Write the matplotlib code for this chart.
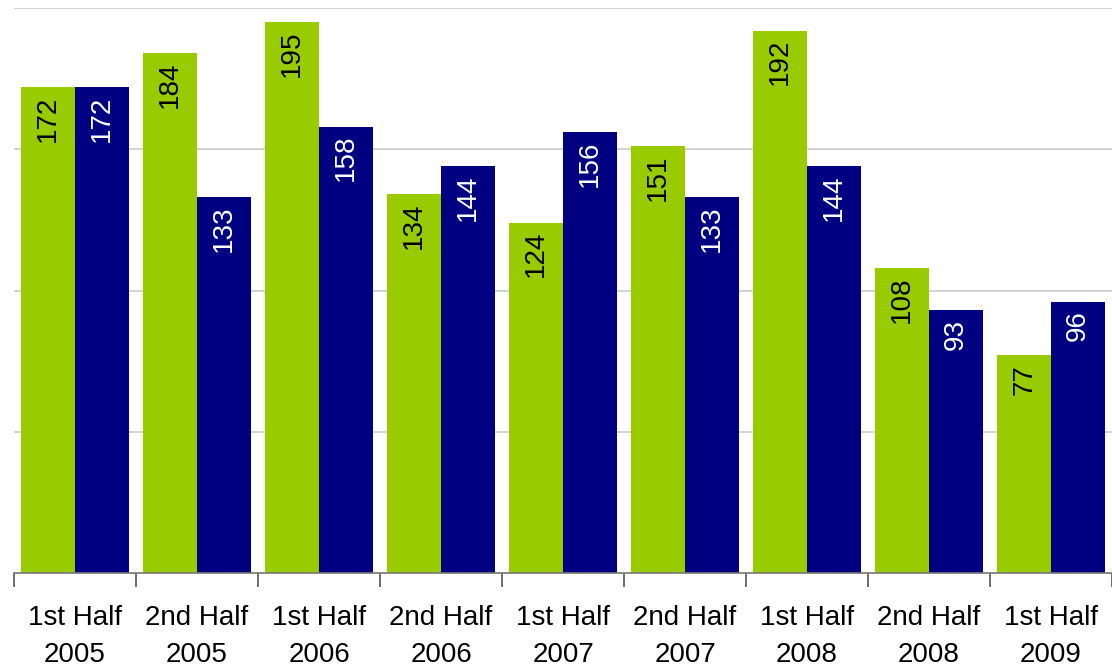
import numpy as np
import matplotlib
matplotlib.use("Agg")
import matplotlib.pyplot as plt

categories = ["1st Half\n2005", "2nd Half\n2005", "1st Half\n2006", "2nd Half\n2006",
              "1st Half\n2007", "2nd Half\n2007", "1st Half\n2008", "2nd Half\n2008",
              "1st Half\n2009"]
green_vals = [172, 184, 195, 134, 124, 151, 192, 108, 77]
navy_vals = [172, 133, 158, 144, 156, 133, 144, 93, 96]

plt.rcParams['font.family'] = ['Liberation Sans', 'DejaVu Sans']

fig = plt.figure(figsize=(11.12, 6.66), dpi=100)
ax = fig.add_axes([14 / 1112, 1 - 573 / 666, 1 - 14 / 1112, (573 - 8) / 666])

x = np.arange(len(categories))
w = 0.44
g_bars = ax.bar(x - w / 2, green_vals, w, color='#99CC00', zorder=2)
n_bars = ax.bar(x + w / 2, navy_vals, w, color='#000080', zorder=2)

for bars, col in ((g_bars, 'black'), (n_bars, 'white')):
    for b in bars:
        ax.annotate(str(int(b.get_height())),
                    (b.get_x() + b.get_width() / 2, b.get_height()),
                    xytext=(0, -6), textcoords='offset points',
                    ha='center', va='top', rotation=90,
                    fontsize=20, color=col, zorder=3)

ax.set_xlim(-0.5, len(categories) - 0.5)
ax.set_ylim(0, 200)
ax.set_yticks([50, 100, 150, 200])
ax.yaxis.grid(True, color='#cccccc', linewidth=1.2, zorder=0)
ax.tick_params(axis='y', left=False, labelleft=False)

# boundary ticks as major, labels on minor ticks at centers
ax.set_xticks(np.arange(len(categories) + 1) - 0.5)
ax.set_xticklabels([])
ax.tick_params(axis='x', which='major', length=10, width=1.2, color='#555555')
ax.set_xticks(x, minor=True)
ax.set_xticklabels(categories, minor=True, fontsize=20, linespacing=1.55)
ax.tick_params(axis='x', which='minor', length=0, pad=23)

for s in ('top', 'right', 'left'):
    ax.spines[s].set_visible(False)
ax.spines['bottom'].set_color('#777777')
ax.spines['bottom'].set_linewidth(1.2)
ax.spines['bottom'].set_zorder(4)

fig.savefig('out.png', dpi=100)
